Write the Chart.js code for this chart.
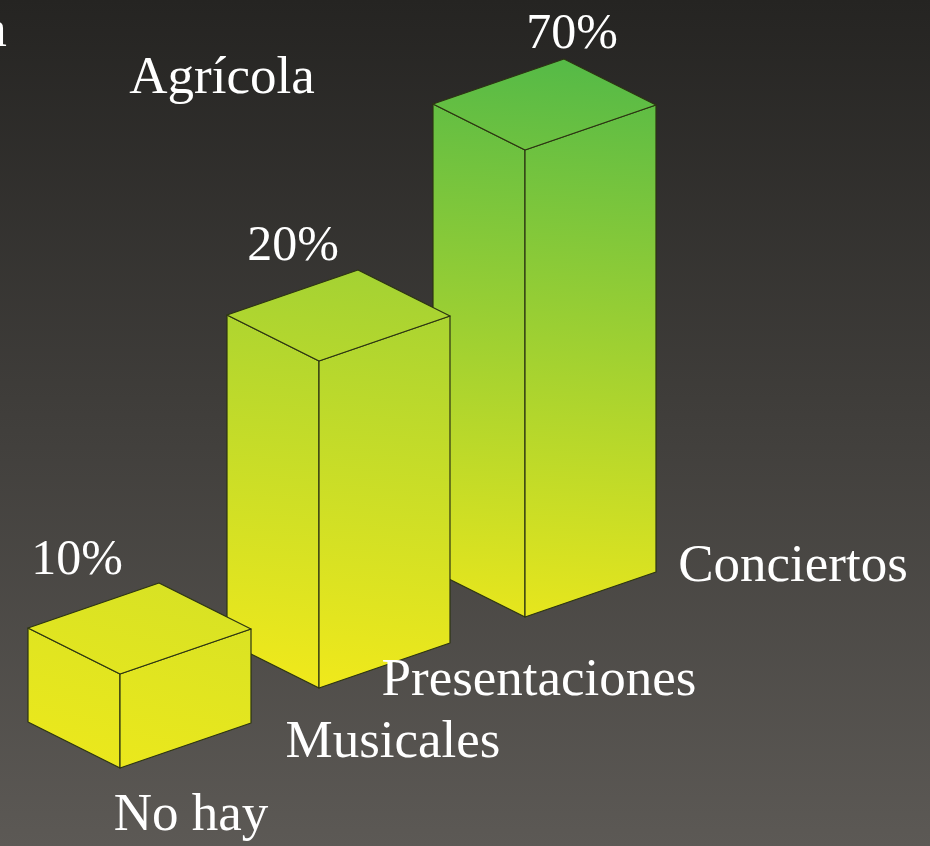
<!DOCTYPE html>
<html><head><meta charset="utf-8">
<style>html,body{margin:0;padding:0;background:#262523}canvas{display:block}</style>
<script src="https://cdn.jsdelivr.net/npm/chart.js@4"></script>
</head><body><canvas id="c" width="930" height="846"></canvas>
<script>
// Data
const categories = ['No hay', 'Musicales', 'Presentaciones', 'Conciertos'];
const valueLabels = ['10%', '20%', '70%'];
const barCategories = ['No hay', 'Presentaciones Musicales', 'Conciertos'];
const barPosition = [0, 29.83, 60.71];     // along the floor of the 3D scene
const barFloor = [0, 11.99, 22.64];        // floor height in the projected scene
const barHeight = [14.09, 49.02, 70];      // drawn height, as pictured
const extraLabels = ['a', 'Agrícola'];     // labels with no bar

// Layout and style (pixels)
const UNIT = 6.671, ORIGIN_X = 120, ORIGIN_Y = 768;
const LEFT = [-92, -46], RIGHT = [131, -45];
const FACE_TOP = ['#d8e224', '#a4d233', '#55ba47'];
const FACE_BOTTOM = ['#ebe81c', '#f0e91b', '#e7e61d'];
const EDGE = '#2c3412';
const VALUE_POS = [[77, 574], [293, 260], [572, 48]];
const LABEL_POS = {
  'No hay': [191, 830], 'Musicales': [393, 757],
  'Presentaciones': [539, 695], 'Conciertos': [793, 581],
  'a': [-5, 46], 'Agrícola': [222, 93]
};

const box3d = {
  id: 'box3d',
  beforeDraw(chart) {
    const { ctx, width, height } = chart;
    const g = ctx.createLinearGradient(0, 0, 0, height);
    g.addColorStop(0, '#252422');
    g.addColorStop(1, '#5c5955');
    ctx.fillStyle = g;
    ctx.fillRect(0, 0, width, height);
  },
  afterDatasetsDraw(chart) {
    const { ctx } = chart;
    const bars = chart.getDatasetMeta(0).data;
    ctx.save();
    for (let i = bars.length - 1; i >= 0; i--) {
      const b = bars[i], x = b.x, top = b.y, bot = b.base;
      const backTop = top + LEFT[1] + RIGHT[1];
      const grad = ctx.createLinearGradient(x + 40, backTop, x - 10, bot);
      grad.addColorStop(0, FACE_TOP[i]);
      grad.addColorStop(1, FACE_BOTTOM[i]);
      const face = pts => {
        ctx.beginPath();
        pts.forEach((p, k) => k ? ctx.lineTo(p[0], p[1]) : ctx.moveTo(p[0], p[1]));
        ctx.closePath();
        ctx.fillStyle = grad;
        ctx.fill();
        ctx.lineWidth = 1.2;
        ctx.strokeStyle = EDGE;
        ctx.lineJoin = 'round';
        ctx.stroke();
      };
      const l = [x + LEFT[0], LEFT[1]], r = [x + RIGHT[0], RIGHT[1]];
      face([[x, top], [l[0], top + l[1]], [l[0], bot + l[1]], [x, bot]]);
      face([[x, top], [r[0], top + r[1]], [r[0], bot + r[1]], [x, bot]]);
      face([[x, top], [l[0], top + l[1]], [x + LEFT[0] + RIGHT[0], backTop], [r[0], top + r[1]]]);
    }
    ctx.fillStyle = '#ffffff';
    ctx.textBaseline = 'alphabetic';
    ctx.textAlign = 'center';
    ctx.font = '50px "Liberation Serif"';
    valueLabels.forEach((t, i) => ctx.fillText(t, VALUE_POS[i][0], VALUE_POS[i][1]));
    ctx.font = '53px "Liberation Serif"';
    categories.concat(extraLabels).forEach(t => ctx.fillText(t, LABEL_POS[t][0], LABEL_POS[t][1]));
    ctx.restore();
  }
};

new Chart(document.getElementById('c'), {
  type: 'bar',
  data: {
    labels: barCategories,
    datasets: [{
      label: 'Porcentaje',
      data: barPosition.map((x, i) => ({ x, y: [barFloor[i], barFloor[i] + barHeight[i]] })),
      backgroundColor: 'rgba(0,0,0,0)',
      borderWidth: 0
    }]
  },
  options: {
    responsive: false,
    animation: false,
    layout: { padding: 0 },
    plugins: { legend: { display: false }, tooltip: { enabled: false } },
    scales: {
      x: { type: 'linear', offset: false, display: false, min: -ORIGIN_X / UNIT, max: (930 - ORIGIN_X) / UNIT },
      y: { type: 'linear', display: false, min: -(846 - ORIGIN_Y) / UNIT, max: ORIGIN_Y / UNIT }
    }
  },
  plugins: [box3d]
});
</script></body></html>
